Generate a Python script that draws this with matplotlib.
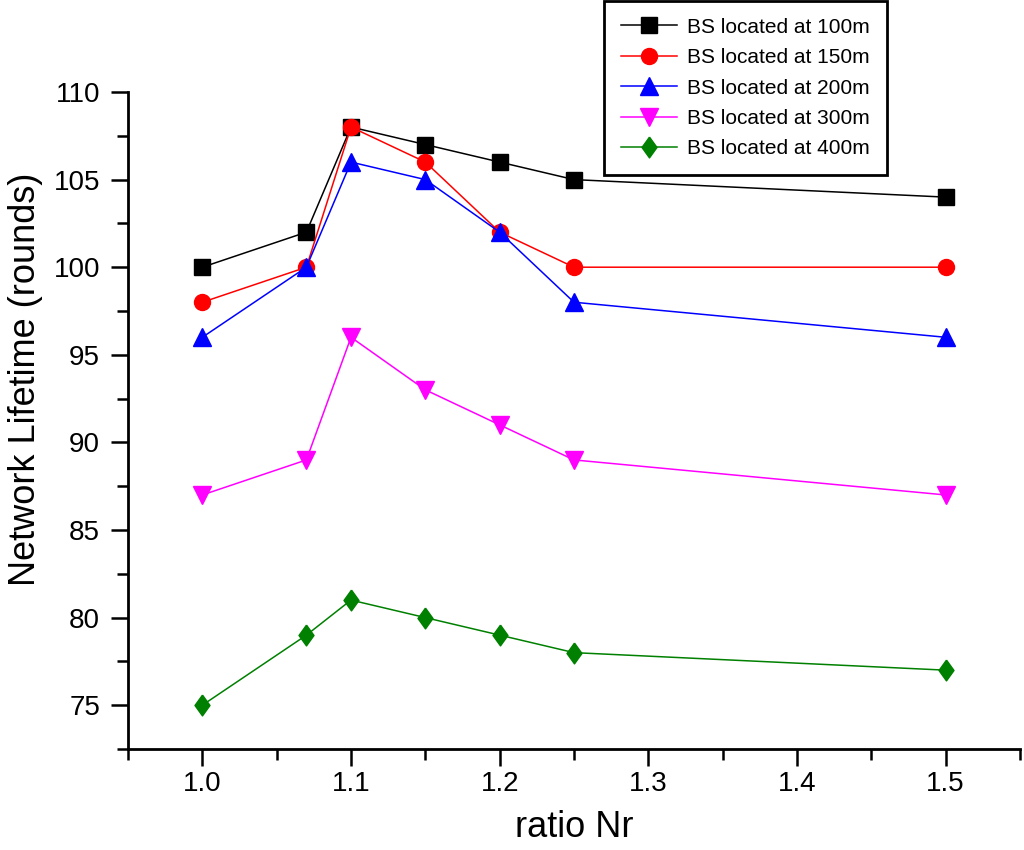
import matplotlib
matplotlib.use("Agg")
import matplotlib.pyplot as plt
from matplotlib.ticker import MultipleLocator

plt.rcParams["font.family"] = ["Liberation Sans", "DejaVu Sans"]

# --- data ---
ratio = [1.0, 1.07, 1.1, 1.15, 1.2, 1.25, 1.5]
bs_100 = [100, 102, 108, 107, 106, 105, 104]
bs_150 = [98, 100, 108, 106, 102, 100, 100]
bs_200 = [96, 100, 106, 105, 102, 98, 96]
bs_300 = [87, 89, 96, 93, 91, 89, 87]
bs_400 = [75, 79, 81, 80, 79, 78, 77]
labels = ["BS located at 100m", "BS located at 150m", "BS located at 200m",
          "BS located at 300m", "BS located at 400m"]

# tall diamond like the Origin one
diamond = [(0, 1), (0.72, 0), (0, -1), (-0.72, 0), (0, 1)]

styles = [("black", "s", 11), ("red", "o", 11.5), ("blue", "^", 13),
          ("magenta", "v", 13), ("green", diamond, 15)]

fig = plt.figure(figsize=(10.24, 8.5), dpi=100)
ax = fig.add_axes([128 / 1024, 1 - 749 / 850, 892 / 1024, 657 / 850])

for ys, lab, (c, mk, ms) in zip([bs_100, bs_150, bs_200, bs_300, bs_400],
                                labels, styles):
    ax.plot(ratio, ys, "-", color=c, lw=1.1, marker=mk, ms=ms,
            mec=c, mfc=c, label=lab)

ax.set_xlim(0.95, 1.55)
ax.set_ylim(72.5, 110)
ax.xaxis.set_major_locator(MultipleLocator(0.1))
ax.xaxis.set_minor_locator(MultipleLocator(0.05))
ax.yaxis.set_major_locator(MultipleLocator(5))
ax.yaxis.set_minor_locator(MultipleLocator(2.5))
ax.xaxis.set_major_formatter(plt.FormatStrFormatter("%.1f"))

for s in ["top", "right"]:
    ax.spines[s].set_visible(False)
for s in ["left", "bottom"]:
    ax.spines[s].set_linewidth(2)

ax.tick_params(which="major", direction="out", length=12, width=1.8,
               labelsize=20)
ax.tick_params(axis="y", which="major", pad=8)
ax.tick_params(axis="x", which="major", pad=4)
ax.tick_params(which="minor", direction="out", length=8, width=1.8)

ax.set_xlabel("ratio Nr", fontsize=26)
ax.set_ylabel("Network Lifetime (rounds)", fontsize=26)
ax.xaxis.label.set_va("center")
ax.yaxis.label.set_va("center")
ax.xaxis.set_label_coords(0.5, -0.12)
ax.yaxis.set_label_coords(-0.115, 0.563)

leg = fig.legend(loc="upper left", bbox_to_anchor=(604 / 1024, 1 - 1 / 850),
                 fontsize=15, handlelength=2.7, frameon=True, fancybox=False,
                 edgecolor="black", framealpha=1, borderpad=0.8,
                 labelspacing=0.55, handletextpad=0.5, borderaxespad=0)
leg.get_frame().set_linewidth(2)

fig.savefig("out.png", dpi=100)
